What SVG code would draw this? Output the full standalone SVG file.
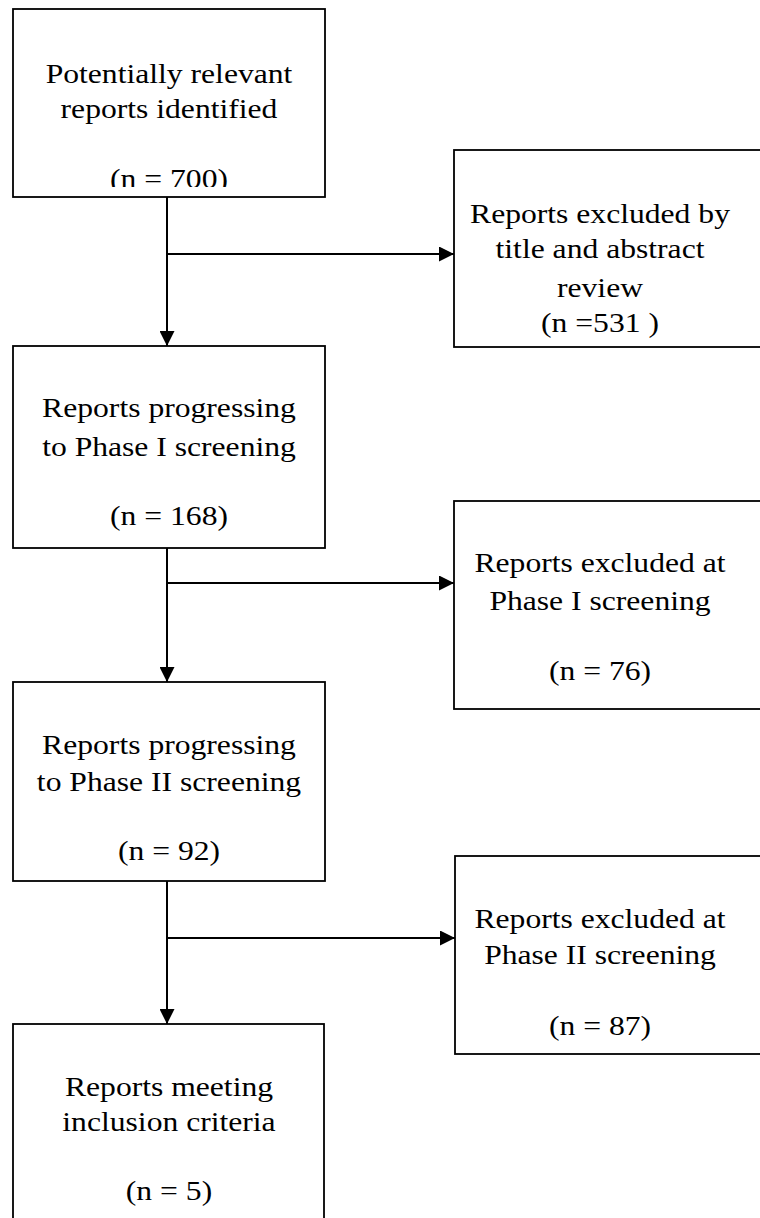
<svg xmlns="http://www.w3.org/2000/svg" width="760" height="1218" viewBox="0 0 760 1218">
<style>
.box{fill:#fff;stroke:#000;stroke-width:1.8}
.lbl{font-size:27.5px;fill:#000;text-anchor:middle}
.con{fill:none;stroke:#000;stroke-width:2}
</style>
<defs>
<marker id="ah" markerUnits="userSpaceOnUse" markerWidth="15" markerHeight="15" refX="15" refY="7.5" orient="auto">
<path d="M0,0 L15,7.5 L0,15 z" fill="#000"/>
</marker>
<clipPath id="c1"><rect x="0" y="0" width="340" height="187"/></clipPath>
</defs>
<rect width="760" height="1218" fill="#fff"/>
<g id="connectors">
<line class="con" x1="167" y1="197" x2="167" y2="346" marker-end="url(#ah)"/>
<line class="con" x1="167" y1="254" x2="454" y2="254" marker-end="url(#ah)"/>
<line class="con" x1="167" y1="548" x2="167" y2="682" marker-end="url(#ah)"/>
<line class="con" x1="167" y1="583" x2="454" y2="583" marker-end="url(#ah)"/>
<line class="con" x1="167" y1="881" x2="167" y2="1024" marker-end="url(#ah)"/>
<line class="con" x1="167" y1="938" x2="455" y2="938" marker-end="url(#ah)"/>
</g>
<g font-family="Liberation Serif, Tinos, Times New Roman, Times, serif">
<g id="n1">
<rect class="box" x="13" y="9" width="312" height="188"/>
<g clip-path="url(#c1)">
<text class="lbl" transform="matrix(1.15 0 0 1 169 83)">Potentially relevant</text>
<text class="lbl" transform="matrix(1.15 0 0 1 169 118)">reports identified</text>
<text class="lbl" transform="matrix(1.15 0 0 1 169 188)">(n = 700)</text>
</g>
</g>
<g id="n2">
<rect class="box" x="454" y="150" width="320" height="197"/>
<text class="lbl" transform="matrix(1.15 0 0 1 600 223)">Reports excluded by</text>
<text class="lbl" transform="matrix(1.15 0 0 1 600 258)">title and abstract</text>
<text class="lbl" transform="matrix(1.15 0 0 1 600 297)">review</text>
<text class="lbl" transform="matrix(1.15 0 0 1 600 332)">(n =531 )</text>
</g>
<g id="n3">
<rect class="box" x="13" y="346" width="312" height="202"/>
<text class="lbl" transform="matrix(1.15 0 0 1 169 417)">Reports progressing</text>
<text class="lbl" transform="matrix(1.15 0 0 1 169 456)">to Phase I screening</text>
<text class="lbl" transform="matrix(1.15 0 0 1 169 525)">(n = 168)</text>
</g>
<g id="n4">
<rect class="box" x="454" y="501" width="320" height="208"/>
<text class="lbl" transform="matrix(1.15 0 0 1 600 572)">Reports excluded at</text>
<text class="lbl" transform="matrix(1.15 0 0 1 600 610)">Phase I screening</text>
<text class="lbl" transform="matrix(1.15 0 0 1 600 680)">(n = 76)</text>
</g>
<g id="n5">
<rect class="box" x="13" y="682" width="312" height="199"/>
<text class="lbl" transform="matrix(1.15 0 0 1 169 754)">Reports progressing</text>
<text class="lbl" transform="matrix(1.15 0 0 1 169 791)">to Phase II screening</text>
<text class="lbl" transform="matrix(1.15 0 0 1 169 860)">(n = 92)</text>
</g>
<g id="n6">
<rect class="box" x="455" y="856" width="320" height="198"/>
<text class="lbl" transform="matrix(1.15 0 0 1 600 928)">Reports excluded at</text>
<text class="lbl" transform="matrix(1.15 0 0 1 600 964)">Phase II screening</text>
<text class="lbl" transform="matrix(1.15 0 0 1 600 1035)">(n = 87)</text>
</g>
<g id="n7">
<rect class="box" x="13" y="1024" width="311" height="220"/>
<text class="lbl" transform="matrix(1.15 0 0 1 169 1096)">Reports meeting</text>
<text class="lbl" transform="matrix(1.15 0 0 1 169 1131)">inclusion criteria</text>
<text class="lbl" transform="matrix(1.15 0 0 1 169 1200)">(n = 5)</text>
</g>
</g>
</svg>
